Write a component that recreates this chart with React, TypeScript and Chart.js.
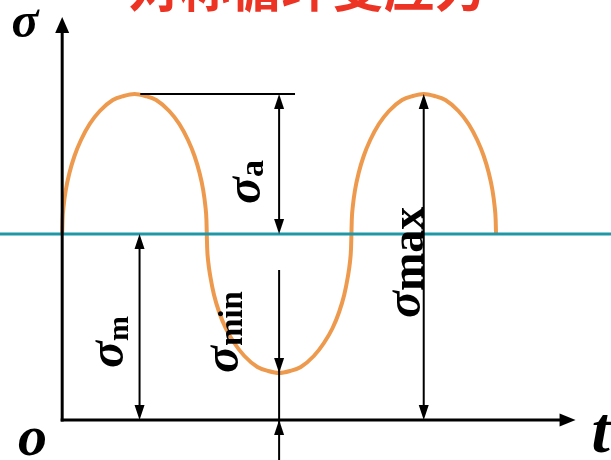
import { useEffect, useRef } from "react";
import { Chart, registerables } from "chart.js";

Chart.register(...registerables);

// Title (cut off at the top in the reference)
const TITLE = "对称循环变应力";

// Time axis in quarter-periods, stress in arbitrary units (axis at 0)
const timeT = [
  0, 0.005, 0.02, 0.05, 0.1, 0.17, 0.26, 0.38, 0.52, 0.7, 0.85, 1,
  1.15, 1.3, 1.48, 1.62, 1.74, 1.83, 1.9, 1.95, 1.98, 1.995,
  2, 2.005, 2.02, 2.05, 2.1, 2.17, 2.26, 2.38, 2.52, 2.7, 2.85, 3,
  3.15, 3.3, 3.48, 3.62, 3.74, 3.83, 3.9, 3.95, 3.98, 3.995,
  4, 4.005, 4.02, 4.05, 4.1, 4.17, 4.26, 4.38, 4.52, 4.7, 4.85, 5,
  5.15, 5.3, 5.48, 5.62, 5.74, 5.83, 5.9, 5.95, 5.98, 5.995,
  6,
];
const stress = [
  18.6, 20.0, 21.4, 23.0, 24.7, 26.4, 28.0, 29.6, 30.9, 32.0, 32.4, 32.6,
  32.4, 32.0, 30.9, 29.6, 28.0, 26.4, 24.7, 23.0, 21.4, 20.0,
  18.6, 17.2, 15.8, 14.3, 12.5, 10.8, 9.2, 7.7, 6.4, 5.3, 4.9, 4.7,
  4.9, 5.3, 6.4, 7.7, 9.2, 10.8, 12.5, 14.3, 15.8, 17.2,
  18.6, 20.0, 21.4, 23.0, 24.7, 26.4, 28.0, 29.6, 30.9, 32.0, 32.4, 32.6,
  32.4, 32.0, 30.9, 29.6, 28.0, 26.4, 24.7, 23.0, 21.4, 20.0,
  18.6,
];

const SIGMA_MEAN = 18.6;
const SIGMA_MAX = 32.6;
const SIGMA_MIN = 4.7;

const T_PEAK = 1;
const T_TROUGH = 3;
const T_PEAK2 = 5;

// Axis ranges
const X_MIN = -0.86;
const X_MAX = 7.59;
const Y_MIN = -4;
const Y_MAX = 42;
const AXIS_T_END = 7.1;
const AXIS_S_END = 40.3;

// Labels
const SUB_A = "a";
const SUB_M = "m";
const SUB_MIN = "min";
const SUB_MAX = "max";
const AXIS_Y_LABEL = "σ";
const ORIGIN_LABEL = "o";
const AXIS_X_LABEL = "t";

const SERIF = '"Liberation Serif", "Times New Roman", serif';

const overlayPlugin = {
  id: "overlay",
  afterDatasetsDraw(chart: any) {
    const ctx: CanvasRenderingContext2D = chart.ctx;
    const xs = chart.scales.x;
    const ys = chart.scales.y;
    const X = (t: number) => xs.getPixelForValue(t);
    const Y = (s: number) => ys.getPixelForValue(s);

    ctx.save();
    ctx.strokeStyle = "#000";
    ctx.fillStyle = "#000";
    ctx.lineCap = "butt";

    const line = (x1: number, y1: number, x2: number, y2: number, w: number) => {
      ctx.lineWidth = w;
      ctx.beginPath();
      ctx.moveTo(x1, y1);
      ctx.lineTo(x2, y2);
      ctx.stroke();
    };
    const head = (x: number, y: number, dx: number, dy: number, len: number, half: number) => {
      const bx = x - dx * len;
      const by = y - dy * len;
      const px = -dy;
      const py = dx;
      ctx.beginPath();
      ctx.moveTo(x, y);
      ctx.lineTo(bx + px * half, by + py * half);
      ctx.lineTo(bx - px * half, by - py * half);
      ctx.closePath();
      ctx.fill();
    };

    // Axes
    const ox = X(0);
    const oy = Y(0);
    line(ox, oy + 1.5, ox, Y(AXIS_S_END) + 10, 3);
    head(ox, Y(AXIS_S_END), 0, -1, 16, 7);
    line(ox - 1.5, oy, X(AXIS_T_END) - 10, oy, 3);
    head(X(AXIS_T_END), oy, 1, 0, 16, 6.5);

    // sigma_a : horizontal reference at peak and double arrow
    line(X(T_PEAK + 0.08), Y(SIGMA_MAX), X(T_TROUGH + 0.22), Y(SIGMA_MAX), 2);
    const xa = X(T_TROUGH);
    line(xa, Y(SIGMA_MAX) + 6, xa, Y(SIGMA_MEAN) - 6, 2);
    head(xa, Y(SIGMA_MAX), 0, -1, 15, 5);
    head(xa, Y(SIGMA_MEAN), 0, 1, 15, 5);

    // sigma_m
    const xm = X(T_PEAK + 0.07);
    line(xm, Y(SIGMA_MEAN) + 6, xm, oy - 6, 2);
    head(xm, Y(SIGMA_MEAN), 0, -1, 15, 5);
    head(xm, oy, 0, 1, 15, 5);

    // sigma_min (outside arrows)
    line(xa, Y(15), xa, Y(Y_MIN), 2);
    head(xa, Y(SIGMA_MIN), 0, 1, 15, 5);
    head(xa, oy, 0, -1, 15, 5);

    // sigma_max
    const xM = X(T_PEAK2);
    line(xM, Y(SIGMA_MAX) + 6, xM, oy - 6, 2);
    head(xM, Y(SIGMA_MAX), 0, -1, 15, 5);
    head(xM, oy, 0, 1, 15, 5);

    // Rotated labels
    const rotLabel = (t: number, s: number, sub: string, sigSize: number, subSize: number, drop: number) => {
      ctx.save();
      ctx.translate(X(t), Y(s));
      ctx.rotate(-Math.PI / 2);
      ctx.textAlign = "left";
      ctx.textBaseline = "alphabetic";
      ctx.font = `italic bold ${sigSize}px ${SERIF}`;
      ctx.fillText("σ", 0, 0);
      const w = ctx.measureText("σ").width;
      ctx.font = `bold ${subSize}px ${SERIF}`;
      ctx.fillText(sub, w, drop);
      ctx.restore();
    };
    rotLabel(2.739, 21.6, SUB_A, 50, 34, 3);
    rotLabel(0.844, 5.2, SUB_M, 50, 30, 5);
    rotLabel(2.434, 4.7, SUB_MIN, 50, 33, 4);
    rotLabel(4.952, 10.2, SUB_MAX, 50, 46, 3);

    // Axis letters
    ctx.textAlign = "left";
    ctx.textBaseline = "alphabetic";
    ctx.font = `italic bold 50px ${SERIF}`;
    ctx.fillText(AXIS_Y_LABEL, X(-0.7), Y(38.3));
    ctx.font = `italic bold 58px ${SERIF}`;
    ctx.fillText(ORIGIN_LABEL, X(-0.61), Y(-3.5));
    ctx.font = `italic bold 66px ${SERIF}`;
    ctx.fillText(AXIS_X_LABEL, X(7.32), Y(-3.2));

    // Title (clipped at top)
    ctx.fillStyle = "#EC3324";
    ctx.textAlign = "center";
    ctx.font = `bold 51px "Noto Sans CJK SC", sans-serif`;
    ctx.fillText(TITLE, 307, 7);

    ctx.restore();
  },
};

export default function App() {
  const ref = useRef<HTMLCanvasElement>(null);

  useEffect(() => {
    if (!ref.current) return;
    const chart = new Chart(ref.current, {
      type: "line",
      data: {
        datasets: [
          {
            label: "mean",
            data: [
              { x: X_MIN, y: SIGMA_MEAN },
              { x: X_MAX, y: SIGMA_MEAN },
            ],
            borderColor: "#1F97A6",
            borderWidth: 3,
            pointRadius: 0,
            tension: 0,
          },
          {
            label: "stress",
            data: timeT.map((t, i) => ({ x: t, y: stress[i] })),
            borderColor: "#EE9A4E",
            borderWidth: 4,
            pointRadius: 0,
            cubicInterpolationMode: "monotone",
            borderJoinStyle: "round",
          },
        ],
      },
      options: {
        animation: false,
        responsive: false,
        devicePixelRatio: 1,
        layout: { padding: 0 },
        plugins: { legend: { display: false }, tooltip: { enabled: false }, title: { display: false } },
        scales: {
          x: { type: "linear", min: X_MIN, max: X_MAX, display: false },
          y: { type: "linear", min: Y_MIN, max: Y_MAX, display: false },
        },
        events: [],
      },
      plugins: [overlayPlugin],
    } as any);
    return () => chart.destroy();
  }, []);

  return (
    <div style={{ position: "fixed", left: 0, top: 0, width: 611, height: 460, background: "#fff" }}>
      <canvas ref={ref} width={611} height={460} style={{ display: "block" }} />
    </div>
  );
}
